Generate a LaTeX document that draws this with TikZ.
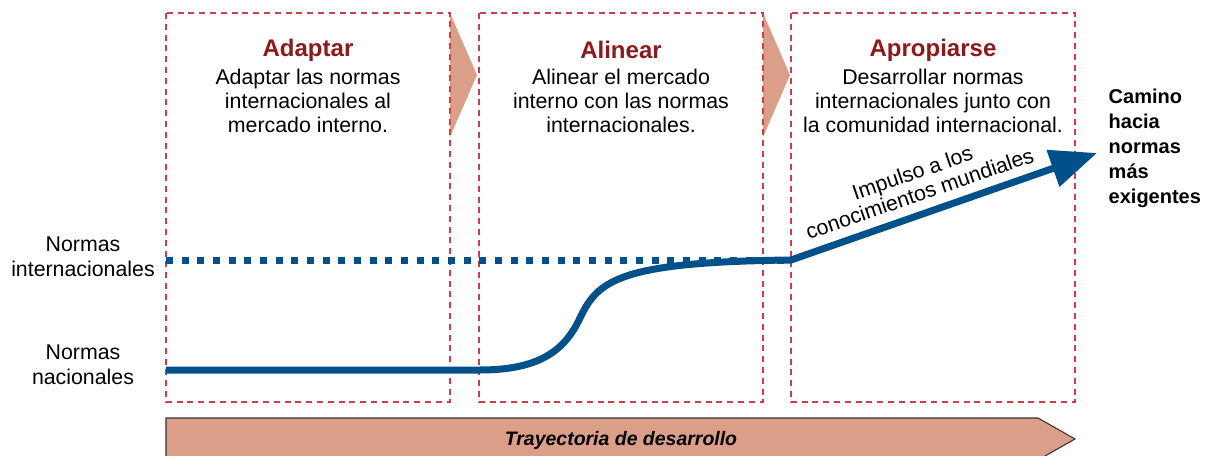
\documentclass[tikz,border=0pt]{standalone}
\usepackage{fontspec}
\setmainfont{Liberation Sans}
\usetikzlibrary{arrows.meta}

\definecolor{stagered}{RGB}{206,62,72}
\definecolor{salmon}{RGB}{218,158,137}
\definecolor{pathblue}{RGB}{0,80,138}
\definecolor{titlered}{RGB}{139,26,26}

\begin{document}
\begin{tikzpicture}[x=0.75pt, y=-0.75pt,
    stagebox/.style={draw=stagered, line width=1.1pt, dash pattern=on 4.5pt off 3.6pt},
    stagetitle/.style={text=titlered, font=\fontsize{18}{21}\selectfont\bfseries},
    stagetext/.style={align=center, font=\fontsize{16}{18}\selectfont},
    sidelabel/.style={align=center, font=\fontsize{16}{18.75}\selectfont},
    bluepath/.style={draw=pathblue, line width=5.25pt}]

    \useasboundingbox (0,0) rectangle (1210,456); % page frame

    % chevrons between the stages
    \fill[salmon] (450,13) -- (477,75) -- (450,137) -- cycle;
    \fill[salmon] (763,13) -- (790,75) -- (763,137) -- cycle;

    % dashed stage frames
    \foreach \x in {166,479,791}
    	\draw[stagebox] (\x,13) rectangle ++(284,389);

    \node[stagetitle] (adaptar) at (308,50) {Adaptar};
    \node[stagetext] (adaptartxt) at (308,101)
    	{Adaptar las normas\\internacionales al\\mercado interno.};

    \node[stagetitle] (alinear) at (621,50) {Alinear};
    \node[stagetext] (alineartxt) at (621,101)
    	{Alinear el mercado\\interno con las normas\\internacionales.};

    \node[stagetitle] (apropiarse) at (933,50) {Apropiarse};
    \node[stagetext] (apropiarsetxt) at (933,101)
    	{Desarrollar normas\\internacionales junto con\\la comunidad internacional.};

    % levels on the left
    \node[sidelabel] (intlabel) at (83,257) {Normas\\internacionales};
    \node[sidelabel] (naclabel) at (83,365) {Normas\\nacionales};

    \draw[bluepath, dash pattern=on 5.25pt off 6.5pt]
    (166,260) -- (791,260); % international level

    \coordinate (nac) at (166,370);
    \coordinate (turn) at (580,318);
    \coordinate (intl) at (791,260);
    \coordinate (goal) at (1097,153);

    \draw[bluepath, line join=round, -{Triangle[length=35pt, width=28pt]}]
    (nac) -- (480,370) .. controls (540,370) and (565,350) .. (turn)
    	.. controls (598,280) and (620,262) .. (intl) -- (goal);

    \node[rotate=19, align=center, inner sep=0pt, font=\fontsize{16}{16.5}\selectfont]
    	(impulso) at (916,183) {Impulso a los\\conocimientos mundiales};

    \node[anchor=west, align=left, font=\fontsize{15}{18.75}\selectfont\bfseries]
    	(camino) at (1104,148) {Camino\\hacia\\normas\\más\\exigentes};

    % development axis
    \draw[fill=salmon, draw=black!80, line width=0.8pt]
    (166,418) -- (1038,418) -- (1075,439) -- (1038,460) -- (166,460) -- cycle;
    \node[font=\fontsize{14.6}{17}\selectfont\bfseries\itshape]
    	(trayectoria) at (621,440) {Trayectoria de desarrollo};

\end{tikzpicture}
\end{document}
